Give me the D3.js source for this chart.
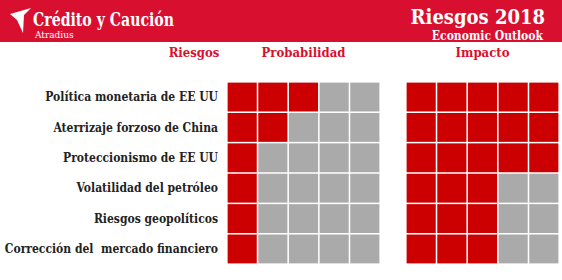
<!DOCTYPE html>
<html>
<head>
<meta charset="utf-8">
<script src="https://cdn.jsdelivr.net/npm/d3@7"></script>
<style>
  body { margin: 0; background: #fff; }
  svg text { font-family: "DejaVu Serif Condensed", "DejaVu Serif", serif; font-weight: bold; white-space: pre; }
</style>
</head>
<body>
<div id="chart"></div>
<script>
// data
const risks = [
  "Política monetaria de EE UU",
  "Aterrizaje forzoso de China",
  "Proteccionismo de EE UU",
  "Volatilidad del petróleo",
  "Riesgos geopolíticos",
  "Corrección del  mercado financiero"
];
const probabilidad = [3, 2, 1, 1, 1, 1];
const impacto = [5, 5, 5, 3, 3, 3];
const levels = [1, 2, 3, 4, 5];

const width = 562;
const height = 280;
const red = "#d90f2f";
const on = "#cc0000";
const off = "#aaaaaa";

const svg = d3.select("#chart").append("svg")
  .attr("width", width)
  .attr("height", height);

// header band
svg.append("rect").attr("x", 0).attr("y", 0).attr("width", width).attr("height", 42).attr("fill", red);

// logo mark
svg.append("path")
  .attr("d", "M10,14 L31,8 L24,15 L23,33 L17,20 Z")
  .attr("fill", "#fff");
svg.append("text").attr("x", 33).attr("y", 26).attr("fill", "#fff")
  .attr("textLength", 141).attr("lengthAdjust", "spacingAndGlyphs")
  .style("font-size", "19px").text("Crédito y Caución");
svg.append("text").attr("x", 35).attr("y", 38).attr("fill", "#fff")
  .style("font-size", "10px").style("font-weight", "normal").text("Atradius");
svg.append("text").attr("x", 545).attr("y", 24).attr("fill", "#fff")
  .attr("text-anchor", "end").style("font-size", "20px").text("Riesgos 2018");
svg.append("text").attr("x", 543).attr("y", 40).attr("fill", "#fff")
  .attr("text-anchor", "end").style("font-size", "12px").text("Economic Outlook");

// scales
const y = d3.scaleBand().domain(risks).range([82, 264]).paddingInner(0.05).paddingOuter(0.02);
const xP = d3.scaleBand().domain(levels).range([227, 380]).paddingInner(0.05).paddingOuter(0.02);
const xI = d3.scaleBand().domain(levels).range([406, 559]).paddingInner(0.05).paddingOuter(0.02);

// column headers
const headers = [
  { t: "Riesgos", x: 194 },
  { t: "Probabilidad", x: (xP.range()[0] + xP.range()[1]) / 2 },
  { t: "Impacto", x: (xI.range()[0] + xI.range()[1]) / 2 }
];
svg.selectAll(".hdr").data(headers).enter().append("text")
  .attr("class", "hdr")
  .attr("x", (d) => d.x)
  .attr("y", 57)
  .attr("text-anchor", "middle")
  .attr("fill", red)
  .style("font-size", "13px")
  .text((d) => d.t);

// row labels
svg.selectAll(".label").data(risks).enter().append("text")
  .attr("class", "label")
  .attr("x", 218)
  .attr("y", (d) => y(d) + y.bandwidth() / 2)
  .attr("dy", "0.35em")
  .attr("text-anchor", "end")
  .attr("fill", "#222")
  .style("font-size", "12px")
  .text((d) => d)
  .each(function () {
    // keep the longest label inside the page
    if (this.getComputedTextLength() > 214) {
      d3.select(this).attr("textLength", 214).attr("lengthAdjust", "spacingAndGlyphs");
    }
  });

// grids
const cells = (values, x) => {
  const out = [];
  risks.forEach((r, i) => levels.forEach((l) => out.push({ r, l, x, fill: l <= values[i] ? on : off })));
  return out;
};
const allCells = cells(probabilidad, xP).concat(cells(impacto, xI));
svg.selectAll(".cell").data(allCells).enter().append("rect")
  .attr("class", "cell")
  .attr("x", (d) => d.x(d.l))
  .attr("y", (d) => y(d.r))
  .attr("width", (d) => d.x.bandwidth())
  .attr("height", y.bandwidth())
  .attr("fill", (d) => d.fill);
</script>
</body>
</html>
